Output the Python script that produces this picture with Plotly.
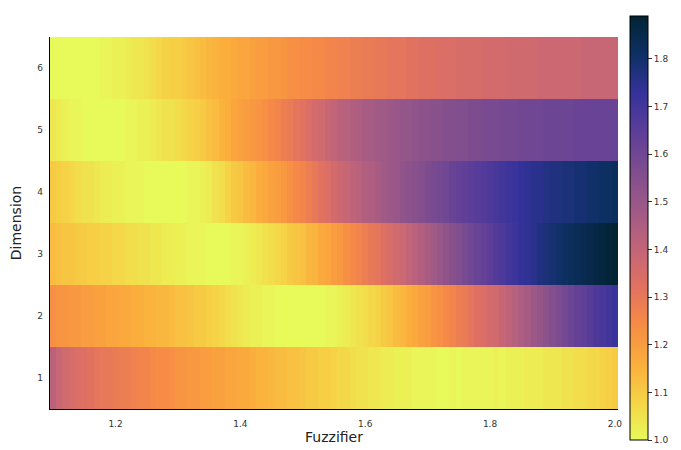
import plotly.graph_objects as go

fuzzifier = [round(1.10 + 0.01 * i, 2) for i in range(91)]
dimension = [1, 2, 3, 4, 5, 6]

dim1 = [1.42, 1.39, 1.37, 1.35, 1.34, 1.33, 1.32, 1.31, 1.30, 1.30,
        1.29, 1.28, 1.28, 1.27, 1.26, 1.26, 1.25, 1.24, 1.24, 1.23,
        1.22, 1.22, 1.21, 1.21, 1.20, 1.20, 1.19, 1.19, 1.18, 1.18,
        1.17, 1.17, 1.16, 1.15, 1.15, 1.14, 1.13, 1.13, 1.12, 1.12,
        1.11, 1.10, 1.10, 1.09, 1.09, 1.08, 1.07, 1.07, 1.06, 1.05,
        1.05, 1.04, 1.04, 1.03, 1.03, 1.02, 1.02, 1.02, 1.01, 1.01,
        1.01, 1.01, 1.00, 1.00, 1.01, 1.00, 1.01, 1.01, 1.01, 1.01,
        1.01, 1.02, 1.01, 1.02, 1.02, 1.02, 1.03, 1.03, 1.03, 1.04,
        1.04, 1.04, 1.05, 1.05, 1.06, 1.06, 1.07, 1.07, 1.08, 1.09,
        1.10]
dim2 = [1.23, 1.22, 1.22, 1.21, 1.21, 1.20, 1.20, 1.19, 1.19, 1.18,
        1.18, 1.17, 1.17, 1.16, 1.16, 1.15, 1.15, 1.14, 1.14, 1.13,
        1.12, 1.12, 1.11, 1.10, 1.10, 1.09, 1.08, 1.07, 1.06, 1.05,
        1.04, 1.03, 1.02, 1.02, 1.01, 1.01, 1.00, 1.00, 1.00, 1.00,
        1.00, 1.00, 1.00, 1.00, 1.01, 1.01, 1.02, 1.03, 1.04, 1.05,
        1.06, 1.07, 1.08, 1.10, 1.11, 1.13, 1.14, 1.16, 1.17, 1.19,
        1.20, 1.22, 1.23, 1.25, 1.26, 1.28, 1.29, 1.31, 1.33, 1.34,
        1.36, 1.37, 1.39, 1.41, 1.43, 1.45, 1.47, 1.49, 1.51, 1.53,
        1.55, 1.57, 1.59, 1.61, 1.63, 1.64, 1.66, 1.68, 1.69, 1.70,
        1.72]
dim3 = [1.13, 1.12, 1.11, 1.11, 1.10, 1.10, 1.09, 1.09, 1.08, 1.08,
        1.07, 1.07, 1.06, 1.06, 1.05, 1.05, 1.04, 1.04, 1.03, 1.03,
        1.02, 1.02, 1.01, 1.01, 1.01, 1.00, 1.00, 1.00, 1.00, 1.01,
        1.01, 1.02, 1.03, 1.04, 1.05, 1.06, 1.07, 1.08, 1.10, 1.11,
        1.12, 1.14, 1.15, 1.17, 1.18, 1.20, 1.21, 1.23, 1.25, 1.26,
        1.28, 1.30, 1.31, 1.33, 1.35, 1.37, 1.38, 1.40, 1.42, 1.44,
        1.46, 1.48, 1.50, 1.52, 1.54, 1.56, 1.58, 1.60, 1.62, 1.63,
        1.65, 1.67, 1.68, 1.70, 1.71, 1.73, 1.74, 1.75, 1.77, 1.78,
        1.79, 1.80, 1.81, 1.82, 1.83, 1.84, 1.85, 1.86, 1.87, 1.88,
        1.89]
dim4 = [1.10, 1.09, 1.08, 1.07, 1.06, 1.05, 1.05, 1.04, 1.03, 1.03,
        1.02, 1.02, 1.01, 1.01, 1.01, 1.00, 1.00, 1.00, 1.00, 1.00,
        1.00, 1.00, 1.01, 1.01, 1.02, 1.03, 1.05, 1.06, 1.08, 1.10,
        1.11, 1.13, 1.14, 1.16, 1.17, 1.19, 1.20, 1.21, 1.23, 1.25,
        1.26, 1.28, 1.30, 1.32, 1.34, 1.36, 1.38, 1.39, 1.41, 1.42,
        1.44, 1.45, 1.46, 1.48, 1.49, 1.50, 1.52, 1.53, 1.54, 1.55,
        1.57, 1.58, 1.59, 1.60, 1.62, 1.63, 1.64, 1.65, 1.66, 1.67,
        1.68, 1.69, 1.70, 1.71, 1.72, 1.73, 1.74, 1.75, 1.75, 1.76,
        1.77, 1.77, 1.78, 1.78, 1.79, 1.79, 1.80, 1.80, 1.81, 1.81,
        1.82]
dim5 = [1.04, 1.03, 1.02, 1.01, 1.01, 1.00, 1.00, 1.00, 1.00, 1.00,
        1.00, 1.00, 1.01, 1.01, 1.02, 1.02, 1.03, 1.04, 1.05, 1.05,
        1.06, 1.07, 1.08, 1.09, 1.10, 1.12, 1.13, 1.15, 1.16, 1.18,
        1.19, 1.20, 1.21, 1.22, 1.23, 1.25, 1.26, 1.28, 1.29, 1.31,
        1.32, 1.34, 1.36, 1.37, 1.39, 1.40, 1.42, 1.43, 1.44, 1.45,
        1.46, 1.47, 1.48, 1.48, 1.49, 1.50, 1.51, 1.51, 1.52, 1.53,
        1.53, 1.54, 1.54, 1.55, 1.55, 1.56, 1.56, 1.57, 1.57, 1.58,
        1.58, 1.58, 1.59, 1.59, 1.59, 1.60, 1.60, 1.60, 1.60, 1.61,
        1.61, 1.61, 1.61, 1.61, 1.62, 1.62, 1.62, 1.62, 1.62, 1.62,
        1.62]
dim6 = [1.00, 1.00, 1.00, 1.00, 1.00, 1.00, 1.00, 1.00, 1.01, 1.01,
        1.02, 1.02, 1.03, 1.04, 1.04, 1.05, 1.06, 1.07, 1.08, 1.09,
        1.09, 1.10, 1.11, 1.12, 1.13, 1.14, 1.15, 1.16, 1.16, 1.17,
        1.18, 1.18, 1.19, 1.20, 1.20, 1.21, 1.21, 1.22, 1.23, 1.23,
        1.24, 1.24, 1.25, 1.25, 1.26, 1.26, 1.27, 1.27, 1.28, 1.28,
        1.29, 1.29, 1.30, 1.30, 1.31, 1.31, 1.31, 1.32, 1.32, 1.33,
        1.33, 1.33, 1.34, 1.34, 1.34, 1.35, 1.35, 1.35, 1.35, 1.36,
        1.36, 1.36, 1.36, 1.37, 1.37, 1.37, 1.37, 1.37, 1.38, 1.38,
        1.38, 1.38, 1.38, 1.38, 1.38, 1.39, 1.39, 1.39, 1.39, 1.39,
        1.39]

cbar_ticks = [1.0, 1.1, 1.2, 1.3, 1.4, 1.5, 1.6, 1.7, 1.8]
x_ticks = [1.2, 1.4, 1.6, 1.8, 2.0]
y_ticks = [1, 2, 3, 4, 5, 6]

font = "DejaVu Sans"
W, H = 681, 450
L, R, T, B = 50, 63, 37, 41
plot_h = H - T - B

fig = go.Figure(go.Heatmap(
    x=fuzzifier, y=dimension,
    z=[dim1, dim2, dim3, dim4, dim5, dim6],
    colorscale="thermal_r", zmin=1.0, zmax=1.89,
    colorbar=dict(
        thickness=18, lenmode="pixels", len=424,
        x=(630 - L) / (W - L - R), xanchor="left", xpad=0,
        y=(H - B - 228) / plot_h, yanchor="middle", ypad=0,
        outlinewidth=1, outlinecolor="black",
        tickvals=cbar_ticks, tickformat=".1f",
        ticks="outside", ticklen=4, tickcolor="#333",
        tickfont=dict(family=font, size=9, color="#333"),
    ),
))

fig.update_layout(
    width=W, height=H,
    margin=dict(l=L, r=R, t=T, b=B, autoexpand=False),
    paper_bgcolor="white", plot_bgcolor="white",
    font=dict(family=font),
    xaxis=dict(
        range=[1.095, 2.005], tickvals=x_ticks, tickformat=".1f",
        showline=True, linecolor="black", linewidth=1.2,
        showgrid=False, zeroline=False, ticks="", ticklabelstandoff=6,
        automargin=False,
        tickfont=dict(family=font, size=9, color="#333"),
        title=dict(text="Fuzzifier", font=dict(family=font, size=14, color="#222"), standoff=2),
    ),
    yaxis=dict(
        range=[0.5, 6.5], tickvals=y_ticks,
        showline=True, linecolor="black", linewidth=1.2,
        showgrid=False, zeroline=False, ticks="", ticklabelstandoff=4,
        automargin=False,
        tickfont=dict(family=font, size=9, color="#333"),
        title=dict(text="Dimension", font=dict(family=font, size=14, color="#222"), standoff=12),
    ),
)

fig.write_html("out.html")
